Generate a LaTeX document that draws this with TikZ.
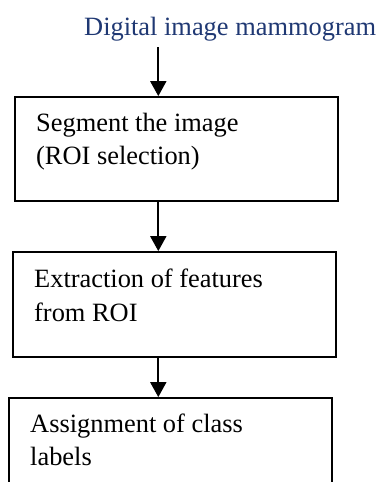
\documentclass[tikz,border=0pt]{standalone}
\usepackage{fontspec}
\setmainfont{Liberation Serif}
\usetikzlibrary{arrows.meta}
\definecolor{titleblue}{RGB}{31,56,115}
\tikzset{
  stepbox/.style={draw=black, line width=1.8pt, rectangle, minimum width=323pt, inner sep=0pt},
  txt/.style={anchor=base west, inner sep=0pt, font=\fontsize{26.4}{34}\selectfont},
  arr/.style={line width=2pt, -{Triangle[width=16pt,length=15pt]}}
}
\begin{document}
\begin{tikzpicture}[x=1pt,y=-1pt]
\useasboundingbox (0,0) rectangle (379,482);
\clip (0,0) rectangle (379,482);
\node[txt, text=titleblue] (title) at (84,35) {Digital image mammogram};
\node[stepbox, minimum height=104pt] (b1) at (176.5,149) {};
\node[stepbox, minimum height=105pt] (b2) at (174.5,304.5) {};
\node[stepbox, minimum height=105pt] (b3) at (170.5,450.5) {};
\node[txt] (t1a) at (36,131.7) {Segment the image};
\node[txt] (t1b) at (36,164.5) {(ROI selection)};
\node[txt] (t2a) at (34,287) {Extraction of features};
\node[txt] (t2b) at (34,321) {from ROI};
\node[txt] (t3a) at (30,432) {Assignment of class};
\node[txt] (t3b) at (30,465.5) {labels};
\coordinate (s1) at (158.3,47);
\draw[arr] (s1) -- (s1|-b1.north);
\draw[arr] (s1|-b1.south) -- (s1|-b2.north);
\draw[arr] (s1|-b2.south) -- (s1|-b3.north);
\end{tikzpicture}
\end{document}
